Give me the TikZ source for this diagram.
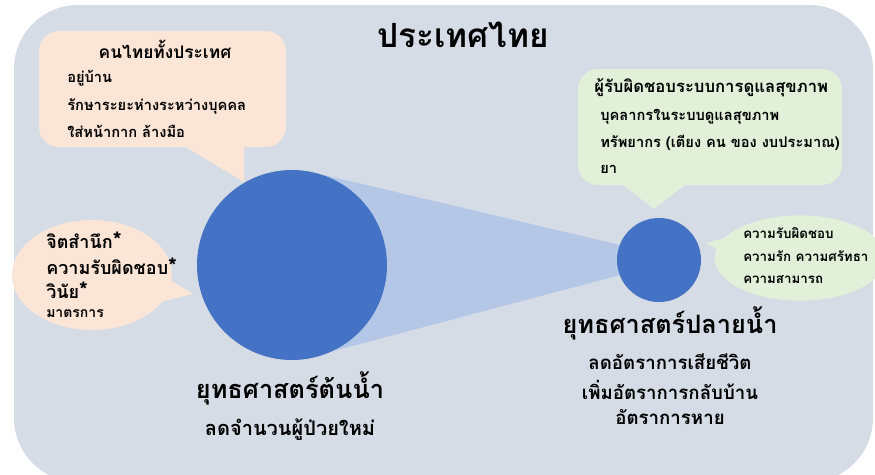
\documentclass[tikz,border=0pt]{standalone}
\usepackage{fontspec}
\newfontfamily\thaifont[Script=Thai]{Loma}
\usepackage{xcolor}
\usetikzlibrary{shapes,positioning,calc}

\definecolor{countryGray}{HTML}{D6DCE5}
\definecolor{stratBlue}{HTML}{4472C4}
\definecolor{coneBlue}{HTML}{B4C7E7}
\definecolor{peach}{HTML}{FBE5D6}
\definecolor{paleGreen}{HTML}{E2F0D9}

\newcommand{\bigstar}{{\fontsize{17}{17}\selectfont*}}

\tikzset{
  thaitext/.style={inner sep=0pt, text=black, font=\thaifont\bfseries\fontsize{#1}{#1}\selectfont},
  line/.style={thaitext=#1, anchor=west},
  strategy/.style={circle, fill=stratBlue, inner sep=0pt, minimum size=#1}
}

\begin{document}
\begin{tikzpicture}[x=0.75pt,y=-0.75pt]
        \useasboundingbox (0,0) rectangle (875,475);
        \clip (0,0) rectangle (875,475);

        % Country background
        \fill[countryGray, rounded corners=48pt] (14,5) rectangle (873,482);
        \node[thaitext=25] (country) at (463,35) {ประเทศไทย};

        % Cone between the two strategies
        \fill[coneBlue] (324,175) -- (620,245) -- (620,275) -- (326,353) -- (292,265) -- cycle;
        \node[strategy=142.5pt] (upstream) at (292,265) {};
        \node[strategy=63pt] (downstream) at (659,260) {};

        % Callout: whole population
        \fill[peach, rounded corners=15pt] (39,31) rectangle (286,147);
        \fill[peach] (184,146) -- (244,182) -- (244,146) -- cycle;
        \node[thaitext=13] (people) at (165,49) {คนไทยทั้งประเทศ};
        \node[line=11] (people1) at (67,78) {อยู่บ้าน};
        \node[line=11] (people2) at (67,106) {รักษาระยะห่างระหว่างบุคคล};
        \node[line=11] (people3) at (67,131) {ใส่หน้ากาก ล้างมือ};

        % Callout: conscience
        \fill[peach] (92,275) ellipse [x radius=60pt, y radius=41.25pt];
        \fill[peach] (170,280) -- (193,294) -- (160,302) -- cycle;
        \node[line=13.5] (mind1) at (46,240) {จิตสำนึก\bigstar};
        \node[line=13.5] (mind2) at (46,266) {ความรับผิดชอบ\bigstar};
        \node[line=13.5] (mind3) at (46,290) {วินัย\bigstar};
        \node[line=10.5] (mind4) at (46,314) {มาตรการ};

        % Callout: health care system
        \fill[paleGreen, rounded corners=15pt] (578,69) rectangle (842,185);
        \fill[paleGreen] (622,184) -- (654,209) -- (686,184) -- cycle;
        \node[line=12.5] (care) at (594,88) {ผู้รับผิดชอบระบบการดูแลสุขภาพ};
        \node[line=11] (care1) at (600,117) {บุคลากรในระบบดูแลสุขภาพ};
        \node[line=11] (care2) at (600,143) {ทรัพยากร (เตียง คน ของ งบประมาณ)};
        \node[line=11] (care3) at (600,169) {ยา};

        % Callout: staff
        \fill[paleGreen] (800,258) ellipse [x radius=64pt, y radius=32pt];
        \fill[paleGreen] (731,236) -- (706,243) -- (725,254) -- cycle;
        \node[line=10] (staff1) at (743,233) {ความรับผิดชอบ};
        \node[line=10] (staff2) at (743,256) {ความรัก ความศรัทธา};
        \node[line=10] (staff3) at (743,280) {ความสามารถ};

        % Strategy labels
        \node[thaitext=19] (upTitle) at (290,388) {ยุทธศาสตร์ต้นน้ำ};
        \node[thaitext=15] (upGoal) at (290,430) {ลดจำนวนผู้ป่วยใหม่};
        \node[thaitext=19] (downTitle) at (670,323) {ยุทธศาสตร์ปลายน้ำ};
        \node[thaitext=14] (downGoal1) at (670,362) {ลดอัตราการเสียชีวิต};
        \node[thaitext=14] (downGoal2) at (670,390) {เพิ่มอัตราการกลับบ้าน};
        \node[thaitext=14] (downGoal3) at (670,417) {อัตราการหาย};
    \end{tikzpicture}
\end{document}
